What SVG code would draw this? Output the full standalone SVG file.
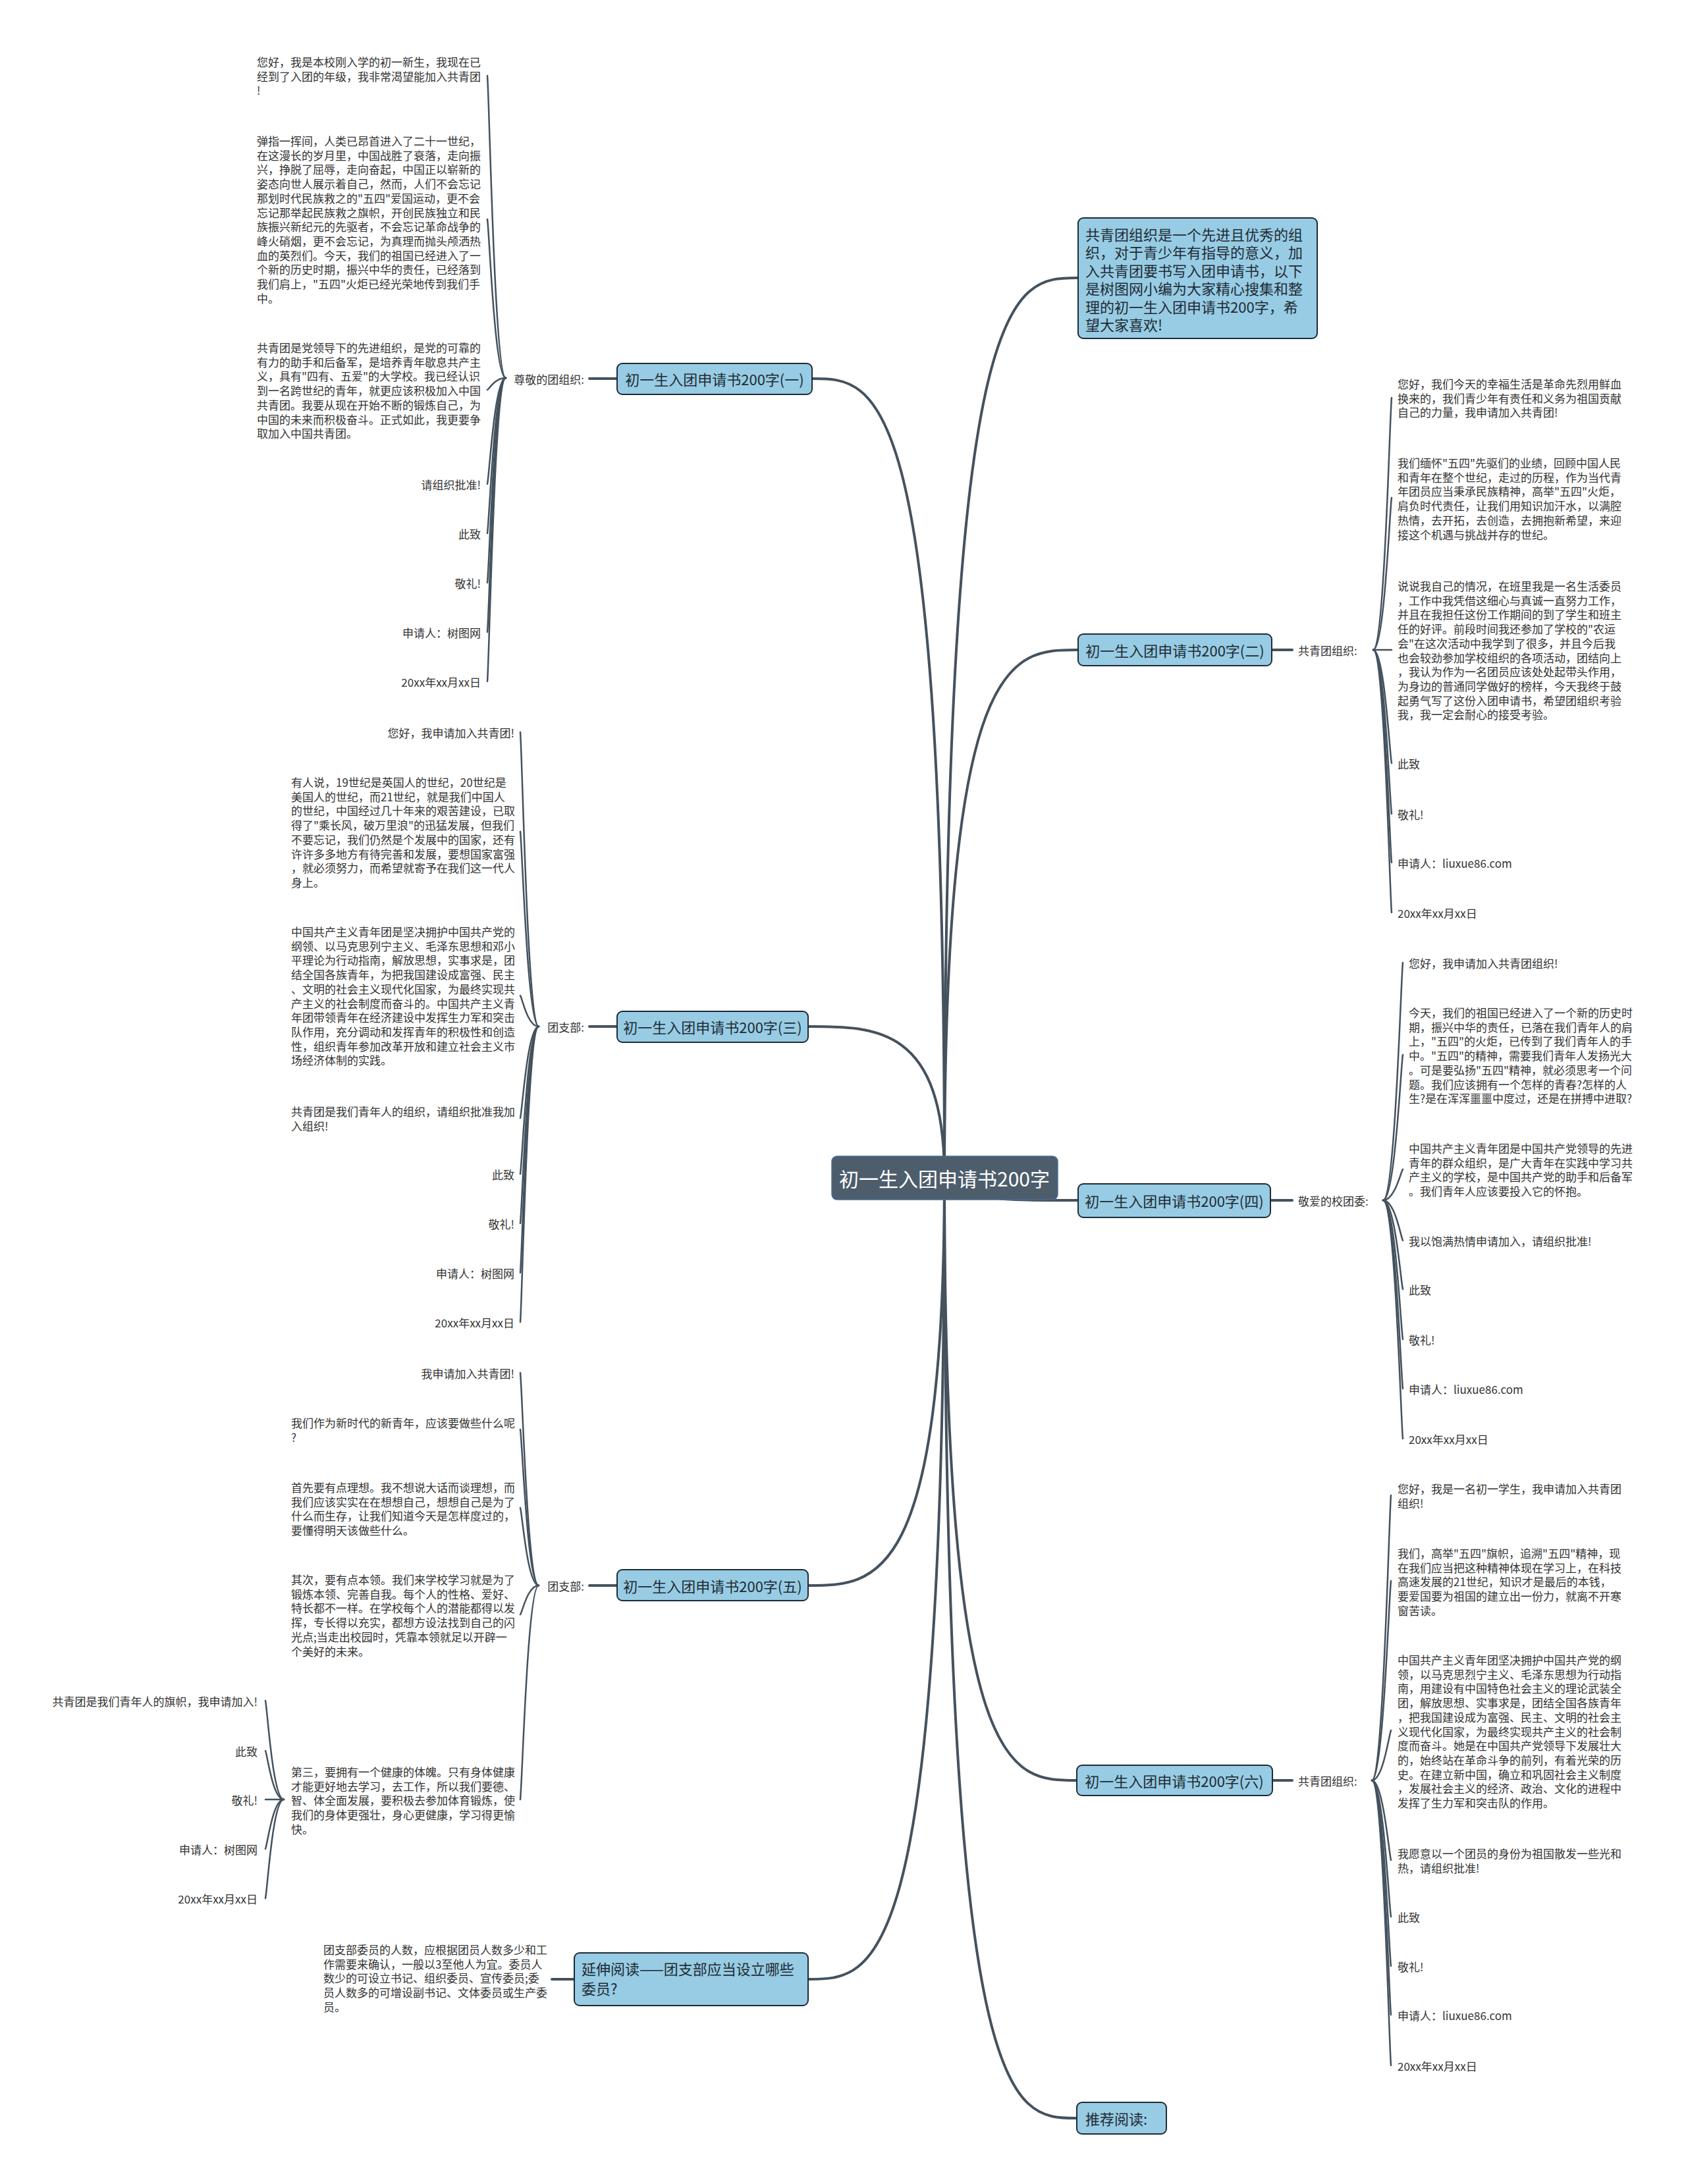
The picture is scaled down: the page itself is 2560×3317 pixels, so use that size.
<svg xmlns="http://www.w3.org/2000/svg" width="2560" height="3317" viewBox="0 0 2560 3317">
<style>
text { font-family: "Noto Sans CJK SC", "Noto Sans", sans-serif; dominant-baseline: central; }
.n { fill: #97cce4; stroke: #1e2b36; stroke-width: 2; }
.root { fill: #4d5d6c; stroke: #4a6d96; stroke-width: 1.5; }
.nt { font-size: 22px; fill: #1f2a33; }
.rt { font-size: 30px; fill: #ffffff; }
.s { font-size: 17px; fill: #333333; }
.e { text-anchor: end; }
.mid { text-anchor: middle; }
.c { fill: none; stroke: #44525e; stroke-width: 2.5; stroke-linecap: round; }
.m { fill: none; stroke: #44525e; stroke-width: 4; stroke-linecap: round; }
</style>
<rect x="0" y="0" width="2560" height="3317" fill="#ffffff"/>

<g id="connectors">
  <!-- main branches -->
  <path class="m" d="M1434 1788 C1434 422 1535 422 1637 422"/>
  <path class="m" d="M1434 1788 C1434 987 1535 987 1637 987"/>
  <path class="m" d="M1434 1788 C1434 1823 1535 1823 1637 1823"/>
  <path class="m" d="M1434 1788 C1434 2704 1534 2704 1635 2704"/>
  <path class="m" d="M1434 1788 C1434 3217 1534 3217 1635 3217"/>
  <path class="m" d="M1434 1788 C1434 575 1333 575 1233 575"/>
  <path class="m" d="M1434 1788 C1434 1559 1330 1559 1227 1559"/>
  <path class="m" d="M1434 1788 C1434 2408 1330 2408 1227 2408"/>
  <path class="m" d="M1434 1788 C1434 3006 1330 3006 1227 3006"/>
  <!-- node to label -->
  <path class="m" d="M937 575 L895 575"/>
  <path class="m" d="M937 1559 L895 1559"/>
  <path class="m" d="M937 2408 L895 2408"/>
  <path class="m" d="M1931 987 L1962 987"/>
  <path class="m" d="M1929 1823 L1962 1823"/>
  <path class="m" d="M1932 2704 L1962 2704"/>
  <path class="m" d="M872 3006 L838 3006"/>
  <!-- (一) leaves -->
  <path class="c" d="M768 574 C751 574 743 152 740 115"/>
  <path class="c" d="M768 574 C751 574 743 352 740 333"/>
  <path class="c" d="M768 574 C751 574 743 591 740 592"/>
  <path class="c" d="M768 574 C751 574 743 722 740 735"/>
  <path class="c" d="M768 574 C751 574 743 791 740 810"/>
  <path class="c" d="M768 574 C751 574 743 860 740 885"/>
  <path class="c" d="M768 574 C751 574 743 929 740 960"/>
  <path class="c" d="M768 574 C751 574 743 998 740 1035"/>
  <!-- (三) leaves -->
  <path class="c" d="M818 1559 C801 1559 793 1148 790 1112"/>
  <path class="c" d="M818 1559 C801 1559 793 1287 790 1263"/>
  <path class="c" d="M818 1559 C801 1559 793 1516 790 1512"/>
  <path class="c" d="M818 1559 C801 1559 793 1687 790 1698"/>
  <path class="c" d="M818 1559 C801 1559 793 1765 790 1783"/>
  <path class="c" d="M818 1559 C801 1559 793 1834 790 1858"/>
  <path class="c" d="M818 1559 C801 1559 793 1903 790 1933"/>
  <path class="c" d="M818 1559 C801 1559 793 1972 790 2008"/>
  <!-- (五) leaves -->
  <path class="c" d="M818 2408 C801 2408 793 2111 790 2085"/>
  <path class="c" d="M818 2408 C801 2408 793 2190 790 2171"/>
  <path class="c" d="M818 2408 C801 2408 793 2300 790 2290"/>
  <path class="c" d="M818 2408 C801 2408 793 2449 790 2452"/>
  <path class="c" d="M818 2408 C801 2408 793 2707 790 2733"/>
  <!-- (五) sub leaves -->
  <path class="c" d="M431 2733 C414 2733 406 2595 403 2583"/>
  <path class="c" d="M431 2733 C414 2733 406 2665 403 2659"/>
  <path class="c" d="M431 2733 L403 2733"/>
  <path class="c" d="M431 2733 C414 2733 406 2802 403 2808"/>
  <path class="c" d="M431 2733 C414 2733 406 2871 403 2883"/>
  <!-- (二) leaves -->
  <path class="c" d="M2085 987 C2102 987 2110 635 2113 604"/>
  <path class="c" d="M2085 987 C2102 987 2110 775 2113 756"/>
  <path class="c" d="M2085 987 C2102 987 2110 987 2113 987"/>
  <path class="c" d="M2085 987 C2102 987 2110 1145 2113 1159"/>
  <path class="c" d="M2085 987 C2102 987 2110 1216 2113 1236"/>
  <path class="c" d="M2085 987 C2102 987 2110 1284 2113 1310"/>
  <path class="c" d="M2085 987 C2102 987 2110 1354 2113 1386"/>
  <!-- (四) leaves -->
  <path class="c" d="M2100 1823 C2118 1823 2127 1491 2130 1462"/>
  <path class="c" d="M2100 1823 C2118 1823 2127 1620 2130 1602"/>
  <path class="c" d="M2100 1823 C2118 1823 2127 1779 2130 1776"/>
  <path class="c" d="M2100 1823 C2118 1823 2127 1879 2130 1884"/>
  <path class="c" d="M2100 1823 C2118 1823 2127 1947 2130 1958"/>
  <path class="c" d="M2100 1823 C2118 1823 2127 2017 2130 2034"/>
  <path class="c" d="M2100 1823 C2118 1823 2127 2086 2130 2109"/>
  <path class="c" d="M2100 1823 C2118 1823 2127 2156 2130 2185"/>
  <!-- (六) leaves -->
  <path class="c" d="M2083 2704 C2100 2704 2109 2306 2112 2271"/>
  <path class="c" d="M2083 2704 C2100 2704 2109 2425 2112 2401"/>
  <path class="c" d="M2083 2704 C2100 2704 2109 2635 2112 2628"/>
  <path class="c" d="M2083 2704 C2100 2704 2109 2815 2112 2825"/>
  <path class="c" d="M2083 2704 C2100 2704 2109 2894 2112 2911"/>
  <path class="c" d="M2083 2704 C2100 2704 2109 2963 2112 2986"/>
  <path class="c" d="M2083 2704 C2100 2704 2109 3031 2112 3060"/>
  <path class="c" d="M2083 2704 C2100 2704 2109 3102 2112 3137"/>
</g>

<g id="root">
  <rect class="root" x="1263" y="1756" width="343" height="66" rx="8"/>
  <text class="rt mid" x="1434" y="1789">初一生入团申请书200字</text>
</g>

<g id="intro">
  <rect class="n" x="1637" y="331" width="363" height="183" rx="8"/>
  <text class="nt">
    <tspan x="1648" y="355">共青团组织是一个先进且优秀的组</tspan>
    <tspan x="1648" y="382.4">织，对于青少年有指导的意义，加</tspan>
    <tspan x="1648" y="409.8">入共青团要书写入团申请书，以下</tspan>
    <tspan x="1648" y="437.2">是树图网小编为大家精心搜集和整</tspan>
    <tspan x="1648" y="464.6">理的初一生入团申请书200字，希</tspan>
    <tspan x="1648" y="492">望大家喜欢!</tspan>
  </text>
</g>

<g id="b1">
  <rect class="n" x="937" y="552" width="296" height="47" rx="8"/>
  <text class="nt mid" x="1085" y="575">初一生入团申请书200字(一)</text>
</g>
<g id="b1-label"><text class="s e" x="887" y="575">尊敬的团组织:</text></g>
<g id="b1-1"><text class="s">
  <tspan x="390" y="93">您好，我是本校刚入学的初一新生，我现在已</tspan>
  <tspan x="390" y="114.7">经到了入团的年级，我非常渴望能加入共青团</tspan>
  <tspan x="390" y="136.4">!</tspan>
</text></g>
<g id="b1-2"><text class="s">
  <tspan x="390" y="213">弹指一挥间，人类已昂首进入了二十一世纪，</tspan>
  <tspan x="390" y="234.7">在这漫长的岁月里，中国战胜了衰落，走向振</tspan>
  <tspan x="390" y="256.4">兴，挣脱了屈辱，走向奋起，中国正以崭新的</tspan>
  <tspan x="390" y="278.1">姿态向世人展示着自己，然而，人们不会忘记</tspan>
  <tspan x="390" y="299.8">那划时代民族救之的"五四"爱国运动，更不会</tspan>
  <tspan x="390" y="321.5">忘记那举起民族救之旗帜，开创民族独立和民</tspan>
  <tspan x="390" y="343.2">族振兴新纪元的先驱者，不会忘记革命战争的</tspan>
  <tspan x="390" y="364.9">峰火硝烟，更不会忘记，为真理而抛头颅洒热</tspan>
  <tspan x="390" y="386.6">血的英烈们。今天，我们的祖国已经进入了一</tspan>
  <tspan x="390" y="408.3">个新的历史时期，振兴中华的责任，已经落到</tspan>
  <tspan x="390" y="430">我们肩上，"五四"火炬已经光荣地传到我们手</tspan>
  <tspan x="390" y="451.7">中。</tspan>
</text></g>
<g id="b1-3"><text class="s">
  <tspan x="390" y="527">共青团是党领导下的先进组织，是党的可靠的</tspan>
  <tspan x="390" y="548.7">有力的助手和后备军，是培养青年歇息共产主</tspan>
  <tspan x="390" y="570.4">义，具有"四有、五爱"的大学校。我已经认识</tspan>
  <tspan x="390" y="592.1">到一名跨世纪的青年，就更应该积极加入中国</tspan>
  <tspan x="390" y="613.8">共青团。我要从现在开始不断的锻炼自己，为</tspan>
  <tspan x="390" y="635.5">中国的未来而积极奋斗。正式如此，我更要争</tspan>
  <tspan x="390" y="657.2">取加入中国共青团。</tspan>
</text></g>
<g id="b1-4"><text class="s e" x="730" y="735">请组织批准!</text></g>
<g id="b1-5"><text class="s e" x="730" y="810">此致</text></g>
<g id="b1-6"><text class="s e" x="730" y="885">敬礼!</text></g>
<g id="b1-7"><text class="s e" x="730" y="960">申请人：树图网</text></g>
<g id="b1-8"><text class="s e" x="730" y="1035">20xx年xx月xx日</text></g>

<g id="b3">
  <rect class="n" x="937" y="1536" width="290" height="47" rx="8"/>
  <text class="nt mid" x="1082" y="1559">初一生入团申请书200字(三)</text>
</g>
<g id="b3-label"><text class="s e" x="887" y="1559">团支部:</text></g>
<g id="b3-1"><text class="s e" x="781" y="1112">您好，我申请加入共青团!</text></g>
<g id="b3-2"><text class="s">
  <tspan x="442" y="1187">有人说，19世纪是英国人的世纪，20世纪是</tspan>
  <tspan x="442" y="1208.7">美国人的世纪，而21世纪，就是我们中国人</tspan>
  <tspan x="442" y="1230.4">的世纪，中国经过几十年来的艰苦建设，已取</tspan>
  <tspan x="442" y="1252.1">得了"乘长风，破万里浪"的迅猛发展，但我们</tspan>
  <tspan x="442" y="1273.8">不要忘记，我们仍然是个发展中的国家，还有</tspan>
  <tspan x="442" y="1295.5">许许多多地方有待完善和发展，要想国家富强</tspan>
  <tspan x="442" y="1317.2">，就必须努力，而希望就寄予在我们这一代人</tspan>
  <tspan x="442" y="1338.9">身上。</tspan>
</text></g>
<g id="b3-3"><text class="s">
  <tspan x="442" y="1414">中国共产主义青年团是坚决拥护中国共产党的</tspan>
  <tspan x="442" y="1435.7">纲领、以马克思列宁主义、毛泽东思想和邓小</tspan>
  <tspan x="442" y="1457.4">平理论为行动指南，解放思想，实事求是，团</tspan>
  <tspan x="442" y="1479.1">结全国各族青年，为把我国建设成富强、民主</tspan>
  <tspan x="442" y="1500.8">、文明的社会主义现代化国家，为最终实现共</tspan>
  <tspan x="442" y="1522.5">产主义的社会制度而奋斗的。中国共产主义青</tspan>
  <tspan x="442" y="1544.2">年团带领青年在经济建设中发挥生力军和突击</tspan>
  <tspan x="442" y="1565.9">队作用，充分调动和发挥青年的积极性和创造</tspan>
  <tspan x="442" y="1587.6">性，组织青年参加改革开放和建立社会主义市</tspan>
  <tspan x="442" y="1609.3">场经济体制的实践。</tspan>
</text></g>
<g id="b3-4"><text class="s">
  <tspan x="442" y="1687">共青团是我们青年人的组织，请组织批准我加</tspan>
  <tspan x="442" y="1708.7">入组织!</tspan>
</text></g>
<g id="b3-5"><text class="s e" x="781" y="1783">此致</text></g>
<g id="b3-6"><text class="s e" x="781" y="1858">敬礼!</text></g>
<g id="b3-7"><text class="s e" x="781" y="1933">申请人：树图网</text></g>
<g id="b3-8"><text class="s e" x="781" y="2008">20xx年xx月xx日</text></g>

<g id="b5">
  <rect class="n" x="937" y="2384" width="290" height="47" rx="8"/>
  <text class="nt mid" x="1082" y="2408">初一生入团申请书200字(五)</text>
</g>
<g id="b5-label"><text class="s e" x="887" y="2408">团支部:</text></g>
<g id="b5-1"><text class="s e" x="781" y="2085">我申请加入共青团!</text></g>
<g id="b5-2"><text class="s">
  <tspan x="442" y="2160">我们作为新时代的新青年，应该要做些什么呢</tspan>
  <tspan x="442" y="2181.7">?</tspan>
</text></g>
<g id="b5-3"><text class="s">
  <tspan x="442" y="2258">首先要有点理想。我不想说大话而谈理想，而</tspan>
  <tspan x="442" y="2279.7">我们应该实实在在想想自己，想想自己是为了</tspan>
  <tspan x="442" y="2301.4">什么而生存，让我们知道今天是怎样度过的，</tspan>
  <tspan x="442" y="2323.1">要懂得明天该做些什么。</tspan>
</text></g>
<g id="b5-4"><text class="s">
  <tspan x="442" y="2398">其次，要有点本领。我们来学校学习就是为了</tspan>
  <tspan x="442" y="2419.7">锻炼本领、完善自我。每个人的性格、爱好、</tspan>
  <tspan x="442" y="2441.4">特长都不一样。在学校每个人的潜能都得以发</tspan>
  <tspan x="442" y="2463.1">挥，专长得以充实，都想方设法找到自己的闪</tspan>
  <tspan x="442" y="2484.8">光点;当走出校园时，凭靠本领就足以开辟一</tspan>
  <tspan x="442" y="2506.5">个美好的未来。</tspan>
</text></g>
<g id="b5-5"><text class="s">
  <tspan x="442" y="2690">第三，要拥有一个健康的体魄。只有身体健康</tspan>
  <tspan x="442" y="2711.7">才能更好地去学习，去工作，所以我们要德、</tspan>
  <tspan x="442" y="2733.4">智、体全面发展，要积极去参加体育锻炼，使</tspan>
  <tspan x="442" y="2755.1">我们的身体更强壮，身心更健康，学习得更愉</tspan>
  <tspan x="442" y="2776.8">快。</tspan>
</text></g>
<g id="b5-5-1"><text class="s e" x="391" y="2583">共青团是我们青年人的旗帜，我申请加入!</text></g>
<g id="b5-5-2"><text class="s e" x="391" y="2659">此致</text></g>
<g id="b5-5-3"><text class="s e" x="391" y="2733">敬礼!</text></g>
<g id="b5-5-4"><text class="s e" x="391" y="2808">申请人：树图网</text></g>
<g id="b5-5-5"><text class="s e" x="391" y="2883">20xx年xx月xx日</text></g>

<g id="ext">
  <rect class="n" x="872" y="2966" width="355" height="80" rx="8"/>
  <text class="nt">
    <tspan x="883" y="2989">延伸阅读——团支部应当设立哪些</tspan>
    <tspan x="883" y="3019">委员?</tspan>
  </text>
</g>
<g id="ext-1"><text class="s">
  <tspan x="491" y="2960">团支部委员的人数，应根据团员人数多少和工</tspan>
  <tspan x="491" y="2981.7">作需要来确认，一般以3至他人为宜。委员人</tspan>
  <tspan x="491" y="3003.4">数少的可设立书记、组织委员、宣传委员;委</tspan>
  <tspan x="491" y="3025.1">员人数多的可增设副书记、文体委员或生产委</tspan>
  <tspan x="491" y="3046.8">员。</tspan>
</text></g>

<g id="b2">
  <rect class="n" x="1637" y="963" width="294" height="48" rx="8"/>
  <text class="nt mid" x="1784" y="987">初一生入团申请书200字(二)</text>
</g>
<g id="b2-label"><text class="s" x="1971" y="987">共青团组织:</text></g>
<g id="b2-1"><text class="s">
  <tspan x="2122" y="582">您好，我们今天的幸福生活是革命先烈用鲜血</tspan>
  <tspan x="2122" y="603.7">换来的，我们青少年有责任和义务为祖国贡献</tspan>
  <tspan x="2122" y="625.4">自己的力量，我申请加入共青团!</tspan>
</text></g>
<g id="b2-2"><text class="s">
  <tspan x="2122" y="702">我们缅怀"五四"先驱们的业绩，回顾中国人民</tspan>
  <tspan x="2122" y="723.7">和青年在整个世纪，走过的历程，作为当代青</tspan>
  <tspan x="2122" y="745.4">年团员应当秉承民族精神，高举"五四"火炬，</tspan>
  <tspan x="2122" y="767.1">肩负时代责任，让我们用知识加汗水，以满腔</tspan>
  <tspan x="2122" y="788.8">热情，去开拓，去创造，去拥抱新希望，来迎</tspan>
  <tspan x="2122" y="810.5">接这个机遇与挑战并存的世纪。</tspan>
</text></g>
<g id="b2-3"><text class="s">
  <tspan x="2122" y="889">说说我自己的情况，在班里我是一名生活委员</tspan>
  <tspan x="2122" y="910.7">，工作中我凭借这细心与真诚一直努力工作，</tspan>
  <tspan x="2122" y="932.4">并且在我担任这份工作期间的到了学生和班主</tspan>
  <tspan x="2122" y="954.1">任的好评。前段时间我还参加了学校的"农运</tspan>
  <tspan x="2122" y="975.8">会"在这次活动中我学到了很多，并且今后我</tspan>
  <tspan x="2122" y="997.5">也会较劲参加学校组织的各项活动，团结向上</tspan>
  <tspan x="2122" y="1019.2">，我认为作为一名团员应该处处起带头作用，</tspan>
  <tspan x="2122" y="1040.9">为身边的普通同学做好的榜样，今天我终于鼓</tspan>
  <tspan x="2122" y="1062.6">起勇气写了这份入团申请书，希望团组织考验</tspan>
  <tspan x="2122" y="1084.3">我，我一定会耐心的接受考验。</tspan>
</text></g>
<g id="b2-4"><text class="s" x="2122" y="1159">此致</text></g>
<g id="b2-5"><text class="s" x="2122" y="1236">敬礼!</text></g>
<g id="b2-6"><text class="s" x="2122" y="1310">申请人：liuxue86.com</text></g>
<g id="b2-7"><text class="s" x="2122" y="1386">20xx年xx月xx日</text></g>

<g id="b4">
  <rect class="n" x="1637" y="1798" width="292" height="51" rx="8"/>
  <text class="nt mid" x="1783" y="1823">初一生入团申请书200字(四)</text>
</g>
<g id="b4-label"><text class="s" x="1971" y="1823">敬爱的校团委:</text></g>
<g id="b4-1"><text class="s" x="2139" y="1462">您好，我申请加入共青团组织!</text></g>
<g id="b4-2"><text class="s">
  <tspan x="2139" y="1537">今天，我们的祖国已经进入了一个新的历史时</tspan>
  <tspan x="2139" y="1558.7">期，振兴中华的责任，已落在我们青年人的肩</tspan>
  <tspan x="2139" y="1580.4">上，"五四"的火炬，已传到了我们青年人的手</tspan>
  <tspan x="2139" y="1602.1">中。"五四"的精神，需要我们青年人发扬光大</tspan>
  <tspan x="2139" y="1623.8">。可是要弘扬"五四"精神，就必须思考一个问</tspan>
  <tspan x="2139" y="1645.5">题。我们应该拥有一个怎样的青春?怎样的人</tspan>
  <tspan x="2139" y="1667.2">生?是在浑浑噩噩中度过，还是在拼搏中进取?</tspan>
</text></g>
<g id="b4-3"><text class="s">
  <tspan x="2139" y="1743">中国共产主义青年团是中国共产党领导的先进</tspan>
  <tspan x="2139" y="1764.7">青年的群众组织，是广大青年在实践中学习共</tspan>
  <tspan x="2139" y="1786.4">产主义的学校，是中国共产党的助手和后备军</tspan>
  <tspan x="2139" y="1808.1">。我们青年人应该要投入它的怀抱。</tspan>
</text></g>
<g id="b4-4"><text class="s" x="2139" y="1884">我以饱满热情申请加入，请组织批准!</text></g>
<g id="b4-5"><text class="s" x="2139" y="1958">此致</text></g>
<g id="b4-6"><text class="s" x="2139" y="2034">敬礼!</text></g>
<g id="b4-7"><text class="s" x="2139" y="2109">申请人：liuxue86.com</text></g>
<g id="b4-8"><text class="s" x="2139" y="2185">20xx年xx月xx日</text></g>

<g id="b6">
  <rect class="n" x="1635" y="2681" width="297" height="46" rx="8"/>
  <text class="nt mid" x="1783" y="2704">初一生入团申请书200字(六)</text>
</g>
<g id="b6-label"><text class="s" x="1971" y="2704">共青团组织:</text></g>
<g id="b6-1"><text class="s">
  <tspan x="2122" y="2260">您好，我是一名初一学生，我申请加入共青团</tspan>
  <tspan x="2122" y="2281.7">组织!</tspan>
</text></g>
<g id="b6-2"><text class="s">
  <tspan x="2122" y="2358">我们，高举"五四"旗帜，追溯"五四"精神，现</tspan>
  <tspan x="2122" y="2379.7">在我们应当把这种精神体现在学习上，在科技</tspan>
  <tspan x="2122" y="2401.4">高速发展的21世纪，知识才是最后的本钱，</tspan>
  <tspan x="2122" y="2423.1">要爱国要为祖国的建立出一份力，就离不开寒</tspan>
  <tspan x="2122" y="2444.8">窗苦读。</tspan>
</text></g>
<g id="b6-3"><text class="s">
  <tspan x="2122" y="2520">中国共产主义青年团坚决拥护中国共产党的纲</tspan>
  <tspan x="2122" y="2541.7">领，以马克思烈宁主义、毛泽东思想为行动指</tspan>
  <tspan x="2122" y="2563.4">南，用建设有中国特色社会主义的理论武装全</tspan>
  <tspan x="2122" y="2585.1">团，解放思想、实事求是，团结全国各族青年</tspan>
  <tspan x="2122" y="2606.8">，把我国建设成为富强、民主、文明的社会主</tspan>
  <tspan x="2122" y="2628.5">义现代化国家，为最终实现共产主义的社会制</tspan>
  <tspan x="2122" y="2650.2">度而奋斗。她是在中国共产党领导下发展壮大</tspan>
  <tspan x="2122" y="2671.9">的，始终站在革命斗争的前列，有着光荣的历</tspan>
  <tspan x="2122" y="2693.6">史。在建立新中国，确立和巩固社会主义制度</tspan>
  <tspan x="2122" y="2715.3">，发展社会主义的经济、政治、文化的进程中</tspan>
  <tspan x="2122" y="2737">发挥了生力军和突击队的作用。</tspan>
</text></g>
<g id="b6-4"><text class="s">
  <tspan x="2122" y="2814">我愿意以一个团员的身份为祖国散发一些光和</tspan>
  <tspan x="2122" y="2835.7">热，请组织批准!</tspan>
</text></g>
<g id="b6-5"><text class="s" x="2122" y="2911">此致</text></g>
<g id="b6-6"><text class="s" x="2122" y="2986">敬礼!</text></g>
<g id="b6-7"><text class="s" x="2122" y="3060">申请人：liuxue86.com</text></g>
<g id="b6-8"><text class="s" x="2122" y="3137">20xx年xx月xx日</text></g>

<g id="rec">
  <rect class="n" x="1635" y="3193" width="136" height="48" rx="8"/>
  <text class="nt" x="1648" y="3217">推荐阅读:</text>
</g>
</svg>
